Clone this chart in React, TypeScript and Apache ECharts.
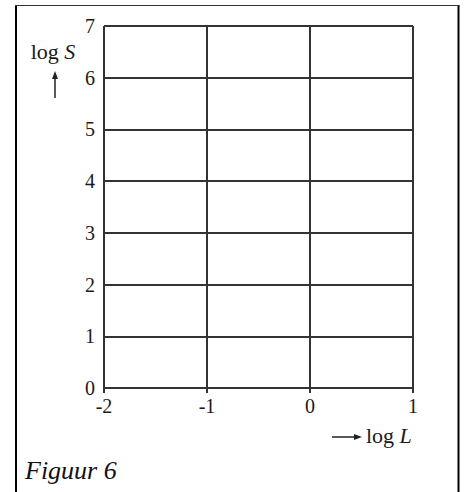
import React, { useEffect, useRef } from "react";
import * as echarts from "echarts";

const xTicks = [-2, -1, 0, 1];
const yTicks = [0, 1, 2, 3, 4, 5, 6, 7];
const xAxisTitle = "log";
const xAxisVar = "L";
const yAxisTitle = "log";
const yAxisVar = "S";
const caption = "Figuur 6";

const FONT = "'Liberation Serif', 'DejaVu Serif', serif";
const LINE = "#333";

export default function App() {
  const ref = useRef<HTMLDivElement>(null);
  useEffect(() => {
    if (!ref.current) return;
    const chart = echarts.init(ref.current, null, { renderer: "svg" });
    chart.setOption({
      animation: false,
      backgroundColor: "#fff",
      grid: { left: 104, top: 26, width: 309, height: 362, containLabel: false },
      xAxis: {
        type: "value",
        min: xTicks[0],
        max: xTicks[xTicks.length - 1],
        interval: 1,
        axisLine: { show: true, lineStyle: { color: LINE, width: 2 } },
        axisTick: { show: true, inside: false, length: 5, lineStyle: { color: LINE, width: 2 } },
        splitLine: { show: true, lineStyle: { color: LINE, width: 2 } },
        axisLabel: { color: "#1a1a1a", fontFamily: FONT, fontSize: 20, lineHeight: 15, margin: 10 },
      },
      yAxis: {
        type: "value",
        min: yTicks[0],
        max: yTicks[yTicks.length - 1],
        interval: 1,
        axisLine: { show: true, lineStyle: { color: LINE, width: 2 } },
        axisTick: { show: true, inside: false, length: 5, lineStyle: { color: LINE, width: 2 } },
        splitLine: { show: true, lineStyle: { color: LINE, width: 2 } },
        axisLabel: { color: "#1a1a1a", fontFamily: FONT, fontSize: 20, lineHeight: 15, margin: 9 },
      },
      series: [{ type: "line", data: [], silent: true }],
      graphic: [
        { type: "line", shape: { x1: 16, y1: 5, x2: 16, y2: 492 }, style: { stroke: "#000", lineWidth: 2 } },
        { type: "line", shape: { x1: 458.5, y1: 5, x2: 458.5, y2: 492 }, style: { stroke: "#000", lineWidth: 2 } },
        { type: "line", shape: { x1: 15, y1: 5.5, x2: 459.5, y2: 5.5 }, style: { stroke: "#333", lineWidth: 1 } },
        {
          type: "text", x: 53, y: 51,
          style: {
            text: `{n|${yAxisTitle} }{i|${yAxisVar}}`, align: "center", verticalAlign: "middle",
            rich: {
              n: { fontFamily: FONT, fontSize: 22, fill: "#1a1a1a" },
              i: { fontFamily: FONT, fontSize: 22, fontStyle: "italic", fill: "#1a1a1a" },
            },
          },
        },
        { type: "line", shape: { x1: 55, y1: 98, x2: 55, y2: 76 }, style: { stroke: "#222", lineWidth: 1.5 } },
        { type: "polygon", shape: { points: [[55, 71], [52, 79], [58, 79]] }, style: { fill: "#222" } },
        { type: "line", shape: { x1: 332, y1: 437, x2: 356, y2: 437 }, style: { stroke: "#222", lineWidth: 1.5 } },
        { type: "polygon", shape: { points: [[362, 437], [354, 434], [354, 440]] }, style: { fill: "#222" } },
        {
          type: "text", x: 366, y: 435,
          style: {
            text: `{n|${xAxisTitle} }{i|${xAxisVar}}`, align: "left", verticalAlign: "middle",
            rich: {
              n: { fontFamily: FONT, fontSize: 22, fill: "#1a1a1a" },
              i: { fontFamily: FONT, fontSize: 22, fontStyle: "italic", fill: "#1a1a1a" },
            },
          },
        },
        {
          type: "text", x: 25, y: 470,
          style: { text: caption, fontFamily: FONT, fontSize: 26, fontStyle: "italic", fill: "#111", verticalAlign: "middle" },
        },
      ],
    });
    return () => chart.dispose();
  }, []);
  return <div ref={ref} style={{ position: "fixed", left: 0, top: 0, width: 465, height: 492 }} />;
}
